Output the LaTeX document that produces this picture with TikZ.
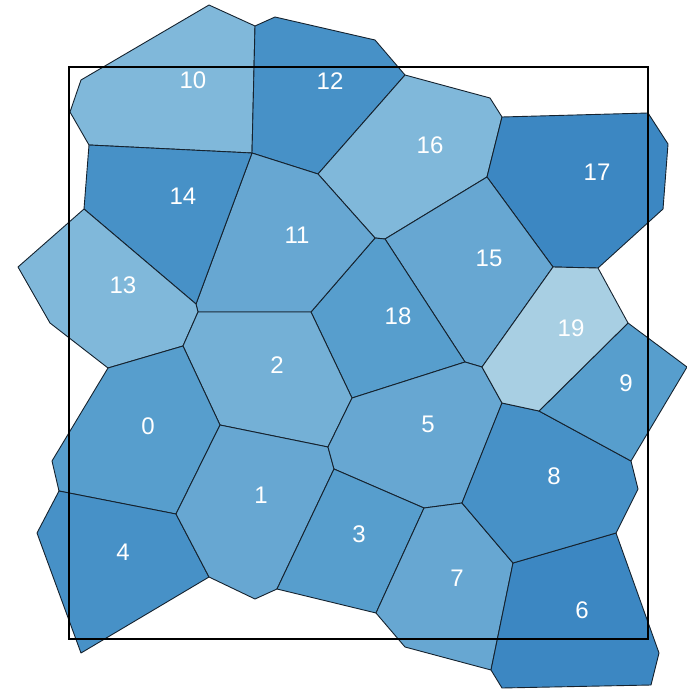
\documentclass[tikz,border=0pt]{standalone}
\usepackage{fontspec}
\setmainfont{Liberation Sans}
\definecolor{cA}{HTML}{A8CFE3}
\definecolor{cB}{HTML}{80B8DA}
\definecolor{cC}{HTML}{74B0D6}
\definecolor{cD}{HTML}{67A7D2}
\definecolor{cE}{HTML}{579ECD}
\definecolor{cF}{HTML}{4791C7}
\definecolor{cG}{HTML}{3C87C2}
\definecolor{edge}{HTML}{15222E}
\begin{document}
\begin{tikzpicture}[x=1pt,y=-1pt,
  cell/.style={draw=edge,line width=0.9pt,line join=round},
  lab/.style={text=white,font=\fontsize{24}{28}\selectfont,inner sep=0pt}]
\useasboundingbox (0,0) rectangle (687,690);
% cells
\filldraw[cell,fill=cB] (209,5)--(255,26)--(252,153)--(89,145)--(70,112)--(81,80)--cycle;
\filldraw[cell,fill=cF] (255,26)--(275,17)--(375,40)--(405,75)--(318,174)--(252,153)--cycle;
\filldraw[cell,fill=cB] (405,75)--(490,98)--(502,117)--(487,177)--(385,239)--(375,238)--(318,174)--cycle;
\filldraw[cell,fill=cG] (502,117)--(648,113)--(668,144)--(663,209)--(598,268)--(553,267)--(487,177)--cycle;
\filldraw[cell,fill=cD] (487,177)--(553,267)--(482,367)--(465,362)--(385,239)--cycle;
\filldraw[cell,fill=cE] (375,238)--(385,239)--(465,362)--(352,398)--(311,312)--cycle;
\filldraw[cell,fill=cD] (252,153)--(318,174)--(375,238)--(311,312)--(198,312)--(196,304)--cycle;
\filldraw[cell,fill=cF] (89,145)--(252,153)--(196,304)--(84,209)--cycle;
\filldraw[cell,fill=cB] (84,209)--(196,304)--(198,312)--(183,346)--(108,368)--(50,323)--(18,267)--cycle;
\filldraw[cell,fill=cC] (198,312)--(311,312)--(352,398)--(328,447)--(220,425)--(183,346)--cycle;
\filldraw[cell,fill=cE] (183,346)--(220,425)--(176,514)--(59,491)--(52,461)--(108,368)--cycle;
\filldraw[cell,fill=cF] (59,491)--(176,514)--(209,577)--(81,653)--(37,533)--cycle;
\filldraw[cell,fill=cD] (220,425)--(328,447)--(334,469)--(277,589)--(255,599)--(209,577)--(176,514)--cycle;
\filldraw[cell,fill=cD] (328,447)--(352,398)--(465,362)--(482,367)--(502,403)--(462,503)--(424,508)--(334,469)--cycle;
\filldraw[cell,fill=cE] (334,469)--(424,508)--(376,613)--(277,589)--cycle;
\filldraw[cell,fill=cD] (424,508)--(462,503)--(513,563)--(491,670)--(405,647)--(376,613)--cycle;
\filldraw[cell,fill=cG] (513,563)--(616,533)--(659,653)--(651,685)--(502,688)--(491,670)--cycle;
\filldraw[cell,fill=cF] (502,403)--(539,411)--(631,461)--(638,489)--(616,533)--(513,563)--(462,503)--cycle;
\filldraw[cell,fill=cE] (539,411)--(628,323)--(687,367)--(631,461)--cycle;
\filldraw[cell,fill=cA] (553,267)--(598,268)--(628,323)--(539,411)--(502,403)--(482,367)--cycle;
% frame
\draw[line width=2.4pt,black] (69,67) rectangle (648,639);
% labels
\node[lab] (l10) at (193,80) {10};
\node[lab] (l12) at (330,81) {12};
\node[lab] (l16) at (430,145) {16};
\node[lab] (l17) at (597,172) {17};
\node[lab] (l14) at (183,196) {14};
\node[lab] (l11) at (297,235) {11};
\node[lab] (l13) at (123,285) {13};
\node[lab] (l15) at (489,258) {15};
\node[lab] (l18) at (398,316) {18};
\node[lab] (l19) at (571,328) {19};
\node[lab] (l2) at (277,365) {2};
\node[lab] (l9) at (626,383) {9};
\node[lab] (l0) at (148,426) {0};
\node[lab] (l5) at (428,424) {5};
\node[lab] (l8) at (554,476) {8};
\node[lab] (l1) at (261,495) {1};
\node[lab] (l3) at (359,534) {3};
\node[lab] (l7) at (457,578) {7};
\node[lab] (l4) at (123,552) {4};
\node[lab] (l6) at (582,610) {6};
\end{tikzpicture}
\end{document}
